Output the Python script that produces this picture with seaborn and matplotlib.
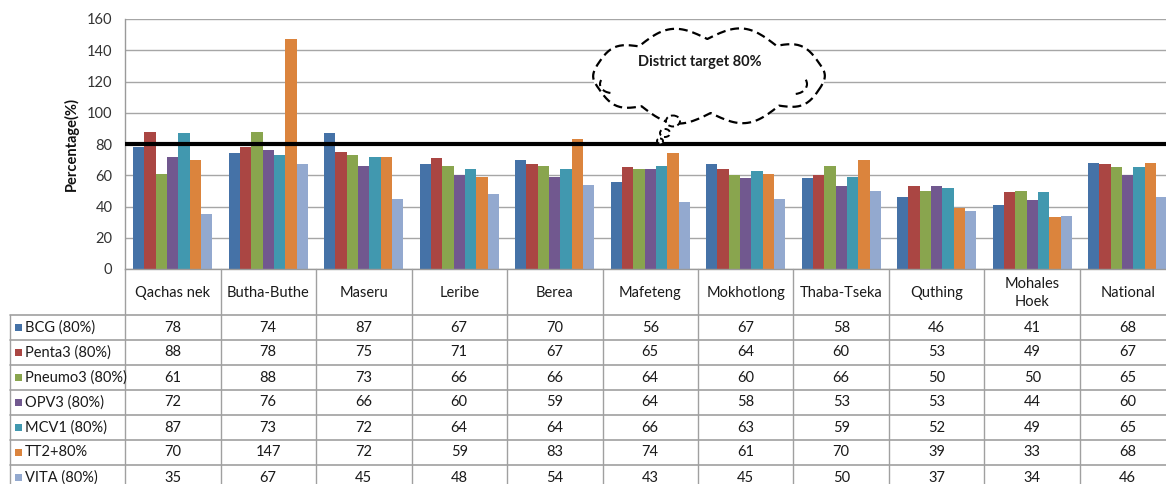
import numpy as np
import pandas as pd
import matplotlib
matplotlib.use("Agg")
import matplotlib.pyplot as plt
import matplotlib.transforms as mtransforms
from matplotlib.patches import Ellipse, Rectangle, Arc
import seaborn as sns

# ---- data -------------------------------------------------------------
districts = ["Qachas nek", "Butha-Buthe", "Maseru", "Leribe", "Berea", "Mafeteng",
             "Mokhotlong", "Thaba-Tseka", "Quthing", "Mohales\nHoek", "National"]
antigens = ["BCG (80%)", "Penta3 (80%)", "Pneumo3 (80%)", "OPV3 (80%)",
            "MCV1 (80%)", "TT2+80%", "VITA (80%)"]
bcg = [78, 74, 87, 67, 70, 56, 67, 58, 46, 41, 68]
penta3 = [88, 78, 75, 71, 67, 65, 64, 60, 53, 49, 67]
pneumo3 = [61, 88, 73, 66, 66, 64, 60, 66, 50, 50, 65]
opv3 = [72, 76, 66, 60, 59, 64, 58, 53, 53, 44, 60]
mcv1 = [87, 73, 72, 64, 64, 66, 63, 59, 52, 49, 65]
tt2 = [70, 147, 72, 59, 83, 74, 61, 70, 39, 33, 68]
vita = [35, 67, 45, 48, 54, 43, 45, 50, 37, 34, 46]
series = [bcg, penta3, pneumo3, opv3, mcv1, tt2, vita]
target = 80
yticks = [0, 20, 40, 60, 80, 100, 120, 140, 160]

colors = ["#4572A7", "#AA4643", "#89A54E", "#71588F", "#4198AF", "#DB843D", "#93A9CF"]

df = pd.DataFrame({
    "district": np.tile(districts, len(antigens)),
    "antigen": np.repeat(antigens, len(districts)),
    "value": np.concatenate(series),
})

# ---- figure -----------------------------------------------------------
W, H = 1166, 484
sns.set_style("white")
plt.rcParams["font.family"] = ["Lato", "DejaVu Sans"]
fig = plt.figure(figsize=(W / 100, H / 100), dpi=100)

ax_left, ax_top, ax_bot, cat_w = 125, 19, 269, 95.5
n = len(districts)
ax = fig.add_axes([ax_left / W, 1 - ax_bot / H, n * cat_w / W, (ax_bot - ax_top) / H])

sns.barplot(data=df, x="district", y="value", hue="antigen", order=districts,
            hue_order=antigens, palette=colors, width=0.83, gap=0, saturation=1,
            linewidth=0, legend=False, ax=ax, zorder=2)

ax.set_xlim(-0.5, n - 0.5)
ax.set_ylim(0, 160)
ax.set_yticks(yticks)
ax.yaxis.grid(True, color="#A6A6A6", lw=1.0, zorder=0)
ax.set_axisbelow(True)
ax.tick_params(axis="y", length=0, pad=9, labelsize=10.5, labelcolor="#333333")
ax.set_xticks([])
ax.set_xlabel("")
ax.set_ylabel("Percentage(%)", fontsize=10.5, fontweight="bold", labelpad=6, color="#111111")
for s in ["top", "right"]:
    ax.spines[s].set_visible(False)
for s in ["left", "bottom"]:
    ax.spines[s].set_color("#9A9A9A")
    ax.spines[s].set_linewidth(1.0)

# district target line
ax.axhline(target, color="black", lw=3.0, zorder=4)

# ---- data table beneath the axis --------------------------------------
pxT = mtransforms.Affine2D().scale(1 / W, -1 / H).translate(0, 1) + fig.transFigure
xdT = mtransforms.blended_transform_factory(ax.transData, pxT)

head_bot, row_h = 315, 25
tab_left = 10
line_c = "#A0A0A0"
txt_c = "#1A1A1A"

# vertical separators between districts
for i in range(n + 1):
    fig.add_artist(plt.Line2D([i - 0.5, i - 0.5], [ax_bot, H + 5], transform=xdT,
                              color=line_c, lw=1.0))
# left edge of the series-name column
fig.add_artist(plt.Line2D([tab_left, tab_left], [head_bot, H + 5], transform=pxT,
                          color=line_c, lw=1.0))
# horizontal rules
for r in range(len(antigens) + 1):
    y = head_bot + r * row_h
    fig.add_artist(plt.Line2D([tab_left, W + 10], [y, y], transform=pxT,
                              color=line_c, lw=1.2))

# header row with district names
for i, d in enumerate(districts):
    fig.text(i, (ax_bot + head_bot) / 2 + 1, d, transform=xdT, ha="center", va="center",
             fontsize=10.5, color=txt_c, linespacing=1.3)

# series rows
for r, (name, vals) in enumerate(zip(antigens, series)):
    yc = head_bot + r * row_h + row_h / 2
    fig.add_artist(Rectangle((15, yc - 4), 7, 7, transform=pxT, facecolor=colors[r],
                             edgecolor="none"))
    fig.text(25, yc, name, transform=pxT, ha="left", va="center", fontsize=10.5, color=txt_c)
    for i, v in enumerate(vals):
        fig.text(i, yc, str(v), transform=xdT, ha="center", va="center",
                 fontsize=10.5, color=txt_c)

# ---- cloud callout ----------------------------------------------------
ov = fig.add_axes([0, 0, 1, 1], zorder=5)
ov.set_xlim(0, W)
ov.set_ylim(H, 0)
ov.axis("off")
ov.patch.set_visible(False)


def cloud_outline(cx, cy, a, b, lobes, phase, bump):
    t = np.linspace(0, 2 * np.pi, lobes + 1) + phase
    pts = np.c_[cx + a * np.cos(t), cy + b * np.sin(t)]
    xs, ys = [], []
    s = np.linspace(0, 1, 30)
    for k in range(lobes):
        p0, p1 = pts[k], pts[k + 1]
        d = p1 - p0
        L = np.hypot(*d)
        nrm = np.array([d[1], -d[0]]) / L
        h = bump * L
        seg = p0[None, :] + s[:, None] * d[None, :] + (h * np.sin(np.pi * s))[:, None] * nrm[None, :]
        xs.extend(seg[:, 0])
        ys.extend(seg[:, 1])
    return np.array(xs), np.array(ys)


cx, cy = 709, 76
cxs, cys = cloud_outline(cx, cy, 117, 37, 10, 0.3, 0.2)
dash = (0, (4, 2.2))
ov.fill(cxs, cys, color="white", zorder=1)
ov.plot(cxs, cys, color="black", lw=1.6, ls=dash, zorder=2)
# inner creases of the cloud
for (ax_, ay_, w_, h_, t1, t2) in [(612, 84, 24, 18, 100, 200), (794, 84, 26, 20, -20, 80)]:
    ov.add_patch(Arc((ax_, ay_), w_, h_, theta1=t1, theta2=t2, color="black", lw=1.5,
                     ls=dash, zorder=2))
for (ex, ey, ew, eh) in [(673, 121, 14, 11), (665, 133, 10, 8), (660, 141, 6, 5)]:
    ov.add_patch(Ellipse((ex, ey), ew, eh, facecolor="white", edgecolor="black",
                         lw=1.4, ls=(0, (3, 1.8)), zorder=2))
ov.text(700, 62, "District target 80%", ha="center", va="center", fontsize=10.5,
        fontweight="bold", color="#1A1A1A", zorder=3)

fig.savefig("out.png", dpi=100)
